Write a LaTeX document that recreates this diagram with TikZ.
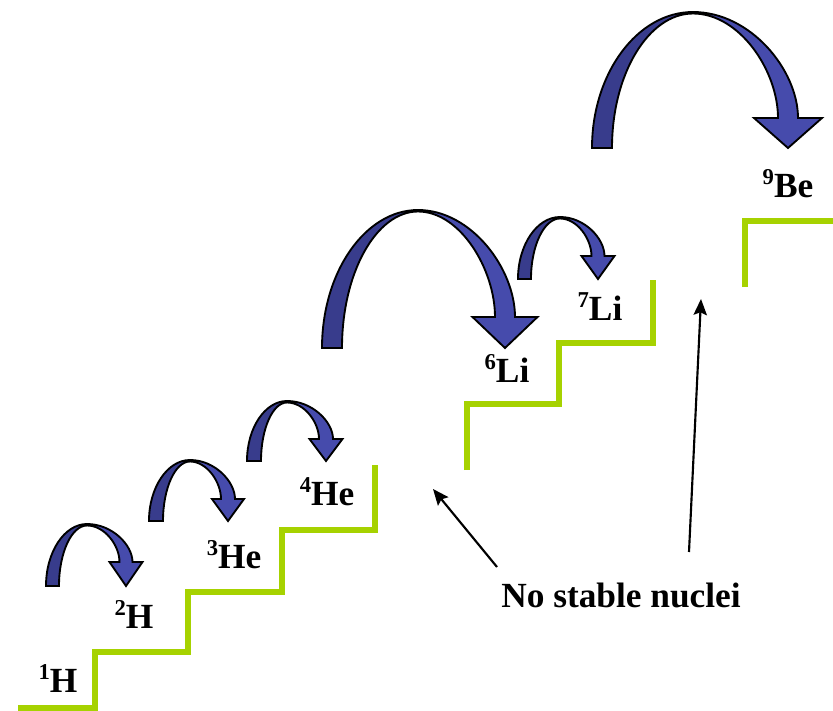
\documentclass[tikz,border=0pt]{standalone}
\usepackage{fontspec}
\setmainfont{Liberation Serif}
\usetikzlibrary{arrows.meta}
\definecolor{stairgreen}{RGB}{166,210,0}
\definecolor{jumpdark}{RGB}{56,60,140}
\definecolor{jumplight}{RGB}{70,75,172}
\tikzset{
  stair/.style={stairgreen, line width=4.5pt, line join=miter},
  nuclide/.style={anchor=base, inner sep=0pt, font=\fontsize{26.5}{30}\selectfont\bfseries},
  pointer/.style={-{Stealth[length=12pt,width=10pt,inset=2pt]}, line width=1.6pt}
}
\newcommand{\iso}[2]{{\fontsize{17}{17}\selectfont\raisebox{9.75pt}{#1}}#2}
% curved jump arrow: tail x, width, bottom y, top y, top x, tip x, head half width, head length
\newcommand{\jumparrow}[8]{%
  \pgfmathsetmacro\jXr{#1+#2}
  \pgfmathsetmacro\jYh{#3-#8}
  \pgfmathsetmacro\jXo{#6+#2/2}
  \pgfmathsetmacro\jXin{#6-#2/2}
  \pgfmathsetmacro\jYt{#4+1.5}
  \fill[jumpdark] (#1,#3) .. controls (#1,{#3-0.55*(#3-#4)}) and ({#5-0.55*(#5-#1)},#4) .. (#5,#4)
    -- (#5,\jYt) .. controls ({#5-0.55*(#5-\jXr)},\jYt) and (\jXr,{#3-0.55*(#3-\jYt)}) .. (\jXr,#3) -- cycle;
  \fill[jumplight] (#5,#4) .. controls ({#5+0.55*(\jXo-#5)},#4) and (\jXo,{#4+0.55*(\jYh-#4)}) .. (\jXo,\jYh)
    -- ({#6+#7},\jYh) -- (#6,#3) -- ({#6-#7},\jYh) -- (\jXin,\jYh)
    .. controls (\jXin,{\jYt+0.55*(\jYh-\jYt)}) and ({#5+0.55*(\jXin-#5)},\jYt) .. (#5,\jYt) -- cycle;
  \draw[line width=1.4pt, line join=miter] (#1,#3) .. controls (#1,{#3-0.55*(#3-#4)}) and ({#5-0.55*(#5-#1)},#4) .. (#5,#4)
    .. controls ({#5+0.55*(\jXo-#5)},#4) and (\jXo,{#4+0.55*(\jYh-#4)}) .. (\jXo,\jYh)
    -- ({#6+#7},\jYh) -- (#6,#3) -- ({#6-#7},\jYh) -- (\jXin,\jYh)
    .. controls (\jXin,{\jYt+0.55*(\jYh-\jYt)}) and ({#5+0.55*(\jXin-#5)},\jYt) .. (#5,\jYt)
    .. controls ({#5-0.55*(#5-\jXr)},\jYt) and (\jXr,{#3-0.55*(#3-\jYt)}) .. (\jXr,#3) -- cycle;
}

\begin{document}
\begin{tikzpicture}[x=0.75pt,y=-0.75pt]
\useasboundingbox (0,0) rectangle (833,711);
% stairs
\draw[stair] (18,708)--(95,708)--(95,652)--(188,652)--(188,592)--(282,592)--(282,530)--(375,530)--(375,465);
\draw[stair] (467,470)--(467,404)--(559,404)--(559,343)--(653,343)--(653,280);
\draw[stair] (745,287)--(745,221)--(833,221);
% jumps
\jumparrow{46}{13}{586}{524}{87}{126}{16.5}{24}
\jumparrow{149}{14}{521}{460}{190}{228}{16}{22}
\jumparrow{247}{14}{461}{401}{287}{326}{16.5}{22}
\jumparrow{322}{20}{348}{210}{418}{505}{32.5}{31}
\jumparrow{518}{13}{279}{217}{560}{598}{16.5}{23}
\jumparrow{592}{20}{148}{12}{693}{788}{34}{30}
% nuclides
\node[nuclide] (h1) at (58,692) {\iso{1}{H}};
\node[nuclide] (h2) at (134,628) {\iso{2}{H}};
\node[nuclide] (he3) at (234,568) {\iso{3}{He}};
\node[nuclide] (he4) at (327,505) {\iso{4}{He}};
\node[nuclide] (li6) at (507,382) {\iso{6}{Li}};
\node[nuclide] (li7) at (600,320) {\iso{7}{Li}};
\node[nuclide] (be9) at (788,197) {\iso{9}{Be}};
\node[nuclide] (note) at (621,607) {No stable nuclei};
% pointers
\coordinate (gap5) at (433,489);
\coordinate (gap8) at (701,299);
\coordinate (from5) at (497,567);
\coordinate (from8) at (689,552);
\draw[pointer] (from5) -- (gap5);
\draw[pointer] (from8) -- (gap8);
\end{tikzpicture}
\end{document}
